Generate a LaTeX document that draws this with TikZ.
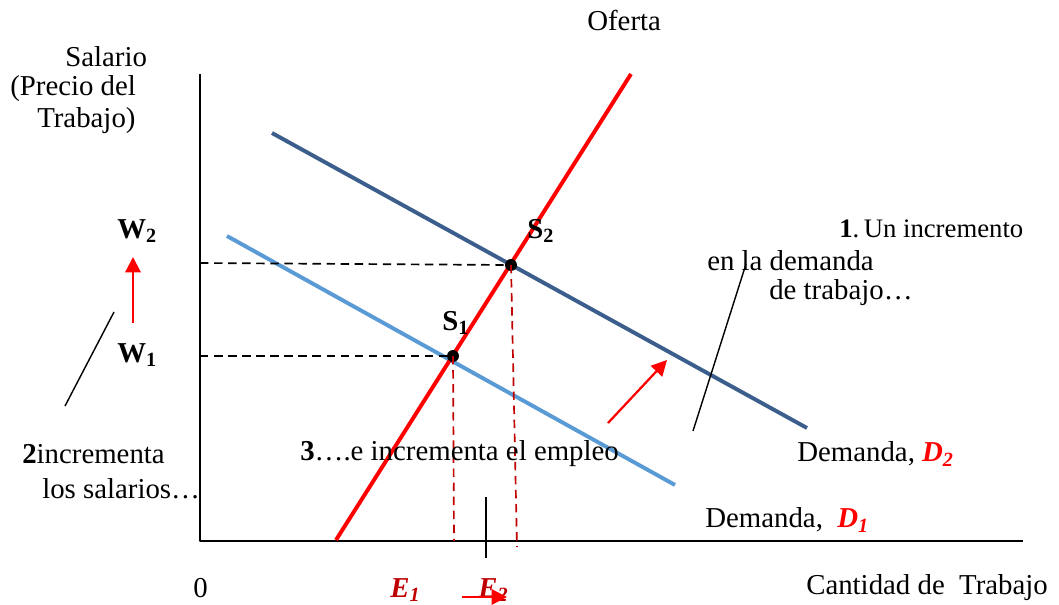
\documentclass[tikz,border=0pt]{standalone}
\usepackage{fontspec}
\setmainfont{Liberation Serif}
\usetikzlibrary{arrows.meta}
\definecolor{demdos}{HTML}{3B5E8C}
\definecolor{demuno}{HTML}{5B9BD5}
\definecolor{rojo}{HTML}{FF0000}
\definecolor{rojoosc}{HTML}{C00000}
\tikzset{
  txt/.style={inner sep=0pt, anchor=west},
  guia/.style={dashed, line width=1.2pt, dash pattern=on 6pt off 4pt},
  flecha/.style={->, rojo, line width=1.6pt},
  punto/.style={circle, fill=black, inner sep=0pt, minimum size=8.5pt}
}
\begin{document}
\begin{tikzpicture}[x=0.025cm, y=-0.025cm, font=\fontsize{20.5}{24}\selectfont, line join=round,
  >={Triangle[length=11pt,width=11pt]}]
\useasboundingbox (0,0) rectangle (1059,605);
% ejes
\coordinate (O) at (200,541); \coordinate (ytop) at (200,74); \coordinate (xend) at (1023,541);
\draw[line width=1.4pt] (ytop) -- (O) -- (xend);
% curvas de demanda y oferta
\coordinate (d2a) at (272,133); \coordinate (d2b) at (807,428);
\coordinate (d1a) at (227,236); \coordinate (d1b) at (675,485);
\coordinate (ofa) at (336,540); \coordinate (ofb) at (631,74);
\draw[demdos, line width=2.8pt] (d2a) -- (d2b);
\draw[demuno, line width=2.8pt] (d1a) -- (d1b);
\draw[rojo, line width=2.8pt] (ofa) -- (ofb);
% equilibrios
\node[punto] (S1) at (453,356) {};
\node[punto] (S2) at (511,265) {};
\coordinate (w1) at (200,356); \coordinate (w2) at (200,263);
\coordinate (e1) at (454,541); \coordinate (e2) at (517,547);
\draw[guia] (w2) -- (S2.center);
\draw[guia] (w1) -- (S1.center);
\draw[guia, rojoosc] (S1.center) -- (e1);
\draw[guia, rojoosc] (S2.center) -- (e2);
\coordinate (tka) at (486,497); \coordinate (tkb) at (486,558);
\draw[line width=1.3pt] (tka) -- (tkb);
% flechas y lineas de llamada
\coordinate (aw1) at (133,323); \coordinate (aw2) at (133,257);
\draw[flecha] (aw1) -- (aw2);
\coordinate (ad1) at (608,423); \coordinate (ad2) at (667,360);
\draw[flecha] (ad1) -- (ad2);
\coordinate (ae1) at (462,597); \coordinate (ae2) at (507,597);
\coordinate (la) at (114,312); \coordinate (lb) at (65,406);
\draw[line width=1pt] (la) -- (lb);
\coordinate (lc) at (746,264); \coordinate (ld) at (693,431);
\draw[line width=1pt] (lc) -- (ld);
% textos
\node[txt] (sal) at (65,57) {Salario};
\node[txt] (pre) at (10,89) {(Precio del};
\node[txt] (trab) at (37,121) {Trabajo)};
\node[txt] (ofe) at (587,20) {Oferta};
\node[txt] (W2) at (117,231) {\textbf{W\textsubscript{2}}};
\node[txt] (W1) at (117,355) {\textbf{W\textsubscript{1}}};
\node[txt] (lS2) at (527,231) {\textbf{S\textsubscript{2}}};
\node[txt] (lS1) at (442,323) {\textbf{S\textsubscript{1}}};
\node[txt, font=\fontsize{19}{24}\selectfont] (uno) at (839,229) {\textbf{1}.\,Un incremento};
\node[txt] (unob) at (707,261) {en la demanda};
\node[txt] (unoc) at (769,293) {de trabajo…};
\node[txt] (dos) at (22,454) {\textbf{2}incrementa};
\node[txt] (dosb) at (42,489) {los salarios…};
\node[txt] (tres) at (300,454) {\textbf{3}….e incrementa el empleo};
\node[txt] (dD2) at (797,454) {Demanda, \textcolor{rojo}{\textbf{\textit{D\textsubscript{2}}}}};
\node[txt] (dD1) at (705,520) {Demanda,~~\textcolor{rojo}{\textbf{\textit{D\textsubscript{1}}}}};
\node[txt] (cero) at (193,588) {0};
\node[txt] (cant) at (806,588) {Cantidad de~~Trabajo};
\node[txt, rojoosc] (E1) at (390,590) {\textbf{\textit{E\textsubscript{1}}}};
\node[txt, rojoosc] (E2) at (478,590) {\textbf{\textit{E\textsubscript{2}}}};
\draw[flecha] (ae1) -- (ae2);
\end{tikzpicture}
\end{document}
